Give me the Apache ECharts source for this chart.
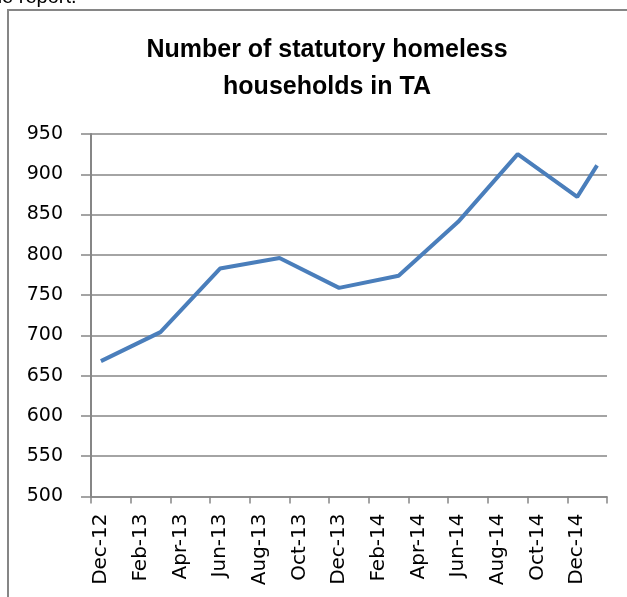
<!DOCTYPE html>
<html>
<head>
<meta charset="utf-8">
<script src="https://cdn.jsdelivr.net/npm/echarts@6/dist/echarts.min.js"></script>
<style>html,body{margin:0;padding:0;background:#fff;}#c{width:627px;height:597px;}</style>
</head>
<body>
<div id="c"></div>
<script>
var months = ["Dec-12","Jan-13","Feb-13","Mar-13","Apr-13","May-13","Jun-13","Jul-13","Aug-13","Sep-13","Oct-13","Nov-13","Dec-13","Jan-14","Feb-14","Mar-14","Apr-14","May-14","Jun-14","Jul-14","Aug-14","Sep-14","Oct-14","Nov-14","Dec-14","Jan-15"];
var households = [668,null,null,704,null,null,783,null,null,796,null,null,759,null,null,774,null,null,841,null,null,925,null,null,872,911];
var yTicks = {min:500, max:950, step:50};
var titleText = "Number of statutory homeless\nhouseholds in TA";

var chart = echarts.init(document.getElementById('c'), null, {renderer:'canvas'});
var gridColor = '#868686';
var titleFont = '"Liberation Sans", sans-serif';
var axisFont = '"DejaVu Sans", sans-serif';
chart.setOption({
  animation:false,
  backgroundColor:'#fff',
  graphic:[
    {type:'rect', shape:{x:8, y:10, width:700, height:700}, style:{fill:'none', stroke:gridColor, lineWidth:2}, silent:true},
    {type:'text', left:-9, top:-13, style:{text:'he report.', font:'20px "Liberation Sans", sans-serif', fill:'#000'}}
  ],
  title:{
    text:titleText, left:322, top:27, textAlign:'center',
    textStyle:{fontFamily:titleFont, fontSize:25, fontWeight:'bold', color:'#000', lineHeight:37}
  },
  grid:{left:91, right:20, top:134, bottom:100.5, containLabel:false},
  xAxis:{
    type:'category', data:months, boundaryGap:true,
    axisLine:{lineStyle:{color:gridColor, width:1.5}},
    axisTick:{show:true, interval:1, length:7, lineStyle:{color:gridColor, width:1.5}},
    axisLabel:{interval:1, rotate:90, margin:17, fontFamily:axisFont, fontSize:20, color:'#000'}
  },
  yAxis:{
    type:'value', min:yTicks.min, max:yTicks.max, interval:yTicks.step,
    axisLine:{show:true, lineStyle:{color:gridColor, width:2}},
    axisTick:{show:true, length:10, lineStyle:{color:gridColor, width:1.5}},
    axisLabel:{margin:28, fontFamily:axisFont, fontSize:19, color:'#000'},
    splitLine:{lineStyle:{color:gridColor, width:1.5}}
  },
  series:[{
    type:'line', data:households, connectNulls:true, showSymbol:false, symbol:'none',
    lineStyle:{color:'#4A7EBB', width:4}
  }]
});
</script>
</body>
</html>
